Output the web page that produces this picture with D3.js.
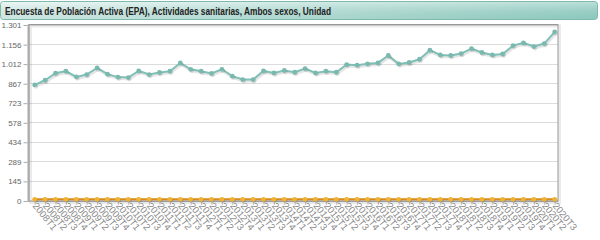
<!DOCTYPE html>
<html>
<head>
<meta charset="utf-8">
<script src="https://cdn.jsdelivr.net/npm/d3@7"></script>
<style>
  body { margin: 0; background: #fff; }
  text { font-family: "Liberation Sans", Arial, sans-serif; }
</style>
</head>
<body>
<div id="chart"></div>
<script>
const title = 'Encuesta de Población Activa (EPA), Actividades sanitarias, Ambos sexos, Unidad';

const years = ['2008', '2009', '2010', '2011', '2012', '2013', '2014', '2015', '2016', '2017', '2018', '2019', '2020'];
const periods = [];
years.forEach(y => ['T1', 'T2', 'T3', 'T4'].forEach(q => periods.push(y + q)));
periods.splice(51);

const yTicks = [0, 145, 289, 434, 578, 723, 867, 1012, 1156, 1301];

const sanitarias = [854, 889, 941, 956, 914, 931, 980, 934, 912, 909,
  958, 931, 946, 956, 1017, 970, 956, 939, 970, 919,
  894, 894, 958, 943, 961, 948, 975, 943, 956, 948,
  1005, 1000, 1010, 1017, 1072, 1010, 1020, 1044, 1111, 1076,
  1072, 1086, 1123, 1094, 1076, 1083, 1145, 1165, 1138, 1160, 1246];

const otros = [9, 9, 9, 9, 9, 9, 9, 9, 9, 9,
  9, 9, 9, 9, 9, 9, 9, 9, 9, 9,
  9, 9, 9, 9, 9, 9, 9, 9, 9, 9,
  9, 9, 9, 9, 9, 9, 9, 9, 9, 9,
  9, 9, 9, 9, 9, 9, 9, 9, 9, 9, 9];

const width = 600, height = 240;
const grid = {left: 29, right: 558, top: 24.5, bottom: 201};

const svg = d3.select('#chart').append('svg')
  .attr('width', width)
  .attr('height', height);

const defs = svg.append('defs');
const grad = defs.append('linearGradient').attr('id', 'tbar')
  .attr('x1', 0).attr('x2', 1).attr('y1', 0).attr('y2', 0);
grad.append('stop').attr('offset', '0%').attr('stop-color', '#e4f3ef');
grad.append('stop').attr('offset', '100%').attr('stop-color', '#98d0c5');
const vgrad = defs.append('linearGradient').attr('id', 'tshade')
  .attr('x1', 0).attr('x2', 0).attr('y1', 0).attr('y2', 1);
vgrad.append('stop').attr('offset', '0%').attr('stop-color', '#fff').attr('stop-opacity', 0.35);
vgrad.append('stop').attr('offset', '100%').attr('stop-color', '#4f9e92').attr('stop-opacity', 0.15);

// title bar
svg.append('rect')
  .attr('x', 0.5).attr('y', 1.5).attr('width', 597).attr('height', 18)
  .attr('rx', 3)
  .attr('fill', 'url(#tbar)')
  .attr('stroke', '#7fb9ae');
svg.append('rect')
  .attr('x', 1).attr('y', 2).attr('width', 596).attr('height', 17)
  .attr('rx', 3)
  .attr('fill', 'url(#tshade)');
svg.append('text')
  .attr('x', 5).attr('y', 14.5)
  .attr('font-size', '10.5px')
  .attr('font-weight', 'bold')
  .attr('fill', '#222')
  .attr('textLength', 326)
  .attr('lengthAdjust', 'spacingAndGlyphs')
  .text(title);

const x = d3.scalePoint()
  .domain(periods)
  .range([34.7, 554.7]);

const y = d3.scaleLinear()
  .domain([0, 1301])
  .range([grid.bottom - 0.5, grid.top]);

// grid lines
svg.append('g')
  .selectAll('line')
  .data(yTicks)
  .join('line')
  .attr('x1', grid.left).attr('x2', grid.right)
  .attr('y1', d => Math.round(y(d)) + 0.5).attr('y2', d => Math.round(y(d)) + 0.5)
  .attr('stroke', '#dcdcdc');

// frame with shadow
svg.append('rect')
  .attr('x', grid.left + 1.5).attr('y', grid.top + 1.5)
  .attr('width', grid.right - grid.left).attr('height', grid.bottom - grid.top)
  .attr('fill', 'none').attr('stroke', '#000').attr('stroke-opacity', 0.08).attr('stroke-width', 3);
svg.append('rect')
  .attr('x', grid.left).attr('y', grid.top)
  .attr('width', grid.right - grid.left).attr('height', grid.bottom - grid.top)
  .attr('fill', 'none').attr('stroke', '#999');
svg.append('line')
  .attr('x1', grid.left - 0.5).attr('x2', grid.left - 0.5)
  .attr('y1', grid.top).attr('y2', grid.bottom + 1)
  .attr('stroke', '#aaa').attr('stroke-width', 2);

// y axis
const yAxis = d3.axisLeft(y)
  .tickValues(yTicks)
  .tickSize(4)
  .tickFormat(d => d3.format(',')(d).replace(/,/g, '.'));
const gy = svg.append('g')
  .attr('transform', `translate(${grid.left - 1.5},0.5)`)
  .call(yAxis);
gy.select('.domain').remove();
gy.selectAll('.tick line').attr('stroke', '#aaa');
gy.selectAll('.tick text')
  .attr('font-size', '8px')
  .attr('fill', '#666')
  .attr('font-family', '"Liberation Sans", Arial, sans-serif')
  .attr('x', -6);

// x axis
const xAxis = d3.axisBottom(x).tickSize(4).tickPadding(2);
const gx = svg.append('g')
  .attr('transform', `translate(0,${grid.bottom})`)
  .call(xAxis);
gx.select('.domain').remove();
gx.selectAll('.tick line').attr('stroke', '#bbb');
gx.selectAll('.tick text')
  .attr('font-size', '9.5px')
  .attr('fill', '#888')
  .attr('font-family', '"Liberation Sans", Arial, sans-serif')
  .attr('text-anchor', 'start')
  .attr('dy', 0)
  .attr('transform', 'translate(-3,5) rotate(51)')
  .attr('x', 0).attr('y', 0);

const line = d3.line()
  .x((d, i) => x(periods[i]))
  .y(d => y(d));

function drawSeries(values, lineColor, dotColor) {
  const g = svg.append('g');
  g.append('path')
    .datum(values)
    .attr('d', line)
    .attr('fill', 'none')
    .attr('stroke', '#000').attr('stroke-opacity', 0.1)
    .attr('stroke-width', 3)
    .attr('transform', 'translate(1,1.5)');
  g.append('path')
    .datum(values)
    .attr('d', line)
    .attr('fill', 'none')
    .attr('stroke', lineColor)
    .attr('stroke-width', 2);
  g.selectAll('circle.sh')
    .data(values)
    .join('circle')
    .attr('class', 'sh')
    .attr('cx', (d, i) => x(periods[i]) + 1)
    .attr('cy', d => y(d) + 1.5)
    .attr('r', 2.4)
    .attr('fill', '#000').attr('fill-opacity', 0.1);
  g.selectAll('circle.pt')
    .data(values)
    .join('circle')
    .attr('class', 'pt')
    .attr('cx', (d, i) => x(periods[i]))
    .attr('cy', d => y(d))
    .attr('r', 2.4)
    .attr('fill', dotColor);
}

drawSeries(otros, '#d98b1c', '#f0b232');
drawSeries(sanitarias, '#80c0b6', '#7ab9af');
</script>
</body>
</html>
